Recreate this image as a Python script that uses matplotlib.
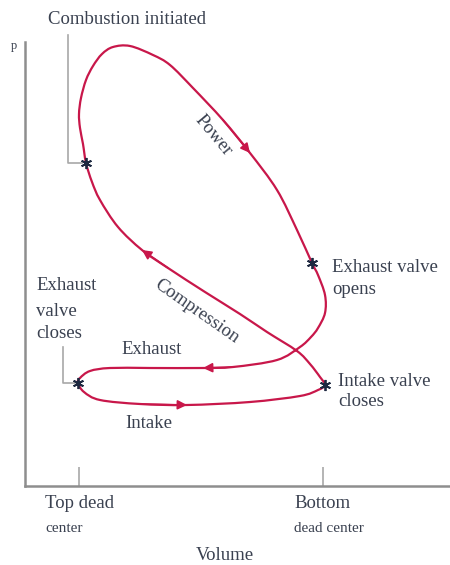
import numpy as np
import matplotlib.pyplot as plt
from matplotlib.path import Path
from matplotlib.patches import PathPatch

# p-V cycle of a four-stroke engine, arbitrary units
power_v = [61, 58, 55, 54, 56, 61, 68, 77, 88, 105, 128, 145, 168, 198, 225, 252, 272, 287]
power_p = [323, 342, 358, 372, 388, 406, 420, 432, 439, 440, 431, 421, 398, 366, 333, 296, 256, 223]
blowdown_v = [293, 300, 300, 293, 286, 275, 252, 208]
blowdown_p = [211, 191, 173, 158, 149, 139, 126, 119]
exhaust_v = [178, 125, 85, 65, 55, 53]
exhaust_p = [118, 118, 118, 115, 108, 103]
intake_v = [59, 75, 115, 162, 225, 275, 293, 300]
intake_p = [94, 86, 82, 81, 84, 90, 96, 101]
compression_v = [295, 285, 272, 242, 215, 180, 143, 117, 93, 75, 67]
compression_p = [109, 122, 135, 154, 172, 194, 218, 236, 259, 286, 304]

# event markers: combustion, exhaust opens, exhaust closes, intake closes
event_v = [61, 287, 53, 300]
event_p = [323, 223, 103, 101]

tdc_v, bdc_v = 54, 298

red = '#c8174a'
ink = '#3a4150'
grey = '#8e8e8e'
serif = ['Liberation Serif', 'DejaVu Serif']

cycle_v = power_v + blowdown_v + exhaust_v + intake_v + compression_v
cycle_p = power_p + blowdown_p + exhaust_p + intake_p + compression_p

fig = plt.figure(figsize=(4.5, 5.65), dpi=100)
ax = fig.add_axes([25 / 450, 79 / 565, 425 / 450, 444 / 565])
ax.set_xlim(0, 425)
ax.set_ylim(0, 444)

# closed smooth curve through the read points (Catmull-Rom as cubic Bezier)
pts = np.column_stack([cycle_v, cycle_p]).astype(float)
n = len(pts)
verts = [pts[0]]
codes = [Path.MOVETO]
for i in range(n):
    p0, p1, p2, p3 = pts[i - 1], pts[i], pts[(i + 1) % n], pts[(i + 2) % n]
    verts += [p1 + (p2 - p0) / 6, p2 - (p3 - p1) / 6, p2]
    codes += [Path.CURVE4] * 3
ax.add_patch(PathPatch(Path(verts, codes), fill=False, edgecolor=red, lw=1.6, zorder=3))

def arrow(head, tail):
    ax.annotate('', xy=head, xytext=tail,
                arrowprops=dict(arrowstyle='-|>', color=red, lw=1.2,
                                mutation_scale=14, shrinkA=0, shrinkB=0), zorder=4)

arrow((power_v[14], power_p[14]), (power_v[13], power_p[13]))
arrow((exhaust_v[0], exhaust_p[0]), (blowdown_v[-1], blowdown_p[-1]))
arrow((intake_v[3], intake_p[3]), (intake_v[2], intake_p[2]))
arrow((compression_v[7], compression_p[7]), (compression_v[6], compression_p[6]))

ax.plot(event_v, event_p, ls='none', marker=(6, 2, 0), ms=8, mew=1.3,
        color='#1d2840', zorder=5)

# leader lines
ax.plot([43, 43, 57], [451, 323, 323], color='#a8a8a8', lw=1.2, clip_on=False)
ax.plot([38, 38, 50], [139, 103, 103], color='#a8a8a8', lw=1.2, clip_on=False)

for s in ['top', 'right']:
    ax.spines[s].set_visible(False)
for s in ['left', 'bottom']:
    ax.spines[s].set_color(grey)
    ax.spines[s].set_linewidth(1.8)
ax.set_yticks([])
ax.set_xticks([tdc_v, bdc_v])
ax.set_xticklabels(['', ''])
ax.tick_params(axis='x', direction='in', length=14, width=1.2, color='#a8a8a8')

fs = 13.5
kw = dict(family=serif, color=ink, fontsize=fs)
ax.text(-11, 440, 'p', family=serif, color=ink, fontsize=9, ha='center', va='center')
ax.text(23, 466, 'Combustion initiated', ha='left', va='center', **kw)
ax.text(188, 351, 'Power', ha='center', va='center', rotation=-50, **kw)
ax.text(307, 219, 'Exhaust valve', ha='left', va='center', **kw)
ax.text(307, 196, 'opens', ha='left', va='center', **kw)
ax.text(11, 200, 'Exhaust', ha='left', va='center', **kw)
ax.text(11, 175, 'valve', ha='left', va='center', **kw)
ax.text(11, 153, 'closes', ha='left', va='center', **kw)
ax.text(172, 175, 'Compression', ha='center', va='center', rotation=-35, **kw)
ax.text(127, 136, 'Exhaust', ha='center', va='center', **kw)
ax.text(313, 104, 'Intake valve', ha='left', va='center', **kw)
ax.text(313, 85, 'closes', ha='left', va='center', **kw)
ax.text(124, 62, 'Intake', ha='center', va='center', **kw)

ax.text(20, -17, 'Top dead', ha='left', va='center', **kw)
ax.text(20, -42, 'center', ha='left', va='center', family=serif, color=ink, fontsize=11)
ax.text(269, -17, 'Bottom', ha='left', va='center', **kw)
ax.text(269, -42, 'dead center', ha='left', va='center', family=serif, color=ink, fontsize=11)
ax.text(200, -70, 'Volume', ha='center', va='center', **kw)

fig.savefig('out.png', dpi=100)
